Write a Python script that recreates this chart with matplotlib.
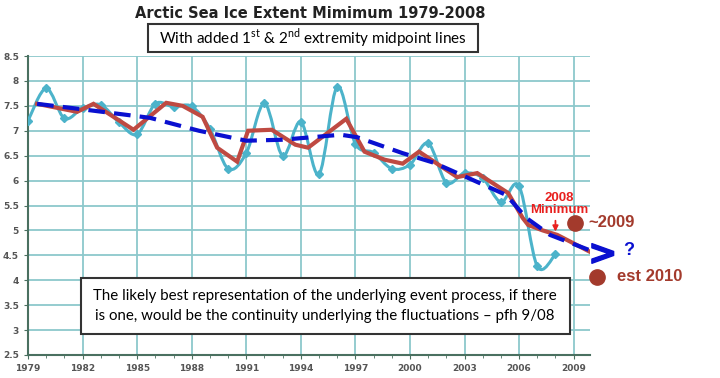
import numpy as np
import matplotlib
matplotlib.use("Agg")
import matplotlib.pyplot as plt
import matplotlib.patheffects as pe
from matplotlib.path import Path
from matplotlib.patches import PathPatch, Rectangle

# September minimum extent (million km2)
years = list(range(1979, 2009))
extent = [7.20, 7.85, 7.25, 7.45, 7.52, 7.17, 6.93, 7.54, 7.48, 7.49,
          7.04, 6.24, 6.55, 7.55, 6.50, 7.18, 6.13, 7.88, 6.74, 6.56,
          6.24, 6.32, 6.75, 5.96, 6.15, 6.05, 5.57, 5.89, 4.28, 4.52]

# 1st extremity midpoint line (red)
mid1_x = [1979.5, 1981.7, 1982.6, 1984.8, 1986.6, 1987.5, 1988.6, 1989.4, 1990.5,
          1991.1, 1992.4, 1993.7, 1994.4, 1996.5, 1997.5, 1998.6, 1999.6, 2000.5,
          2002.6, 2003.7, 2005.4, 2006.2, 2006.5, 2007.3, 2008.1, 2009.0, 2009.9]
mid1_y = [7.54, 7.38, 7.54, 7.02, 7.56, 7.50, 7.28, 6.66, 6.38,
          7.00, 7.02, 6.72, 6.66, 7.24, 6.58, 6.42, 6.34, 6.58,
          6.07, 6.15, 5.75, 5.25, 5.11, 5.00, 4.91, 4.74, 4.57]

# 2nd extremity midpoint line (blue dashed)
mid2_x = [1979.5, 1982.0, 1985.7, 1988.4, 1991.0, 1993.0, 1996.2, 1997.1, 1999.6,
          2001.3, 2003.1, 2005.3, 2006.4, 2007.7, 2009.9]
mid2_y = [7.54, 7.43, 7.26, 7.00, 6.80, 6.82, 6.92, 6.87, 6.55,
          6.36, 6.07, 5.71, 5.25, 4.91, 4.60]

est_x = [2009.05, 2010.3]
est_y = [5.15, 4.07]
est_labels = ["~2009", "est 2010"]

xticks = list(range(1979, 2010, 3))
yticks = [2.5, 3, 3.5, 4, 4.5, 5, 5.5, 6, 6.5, 7, 7.5, 8, 8.5]


def smooth_path(xs, ys):
    # excel-like smoothed line as cubic bezier segments
    pts = np.column_stack([xs, ys])
    n = len(pts)
    verts = [tuple(pts[0])]
    codes = [Path.MOVETO]
    for i in range(n - 1):
        p0 = pts[i - 1] if i > 0 else pts[i]
        p1, p2 = pts[i], pts[i + 1]
        p3 = pts[i + 2] if i + 2 < n else pts[i + 1]
        verts += [tuple(p1 + (p2 - p0) / 6), tuple(p2 - (p3 - p1) / 6), tuple(p2)]
        codes += [Path.CURVE4] * 3
    return Path(verts, codes)


def px_box(fig, x0, y0, x1, y1):
    # rectangle given in pixels from the top-left corner
    W, H = 720.0, 378.0
    fig.patches.append(Rectangle((x0 / W, 1 - y1 / H), (x1 - x0) / W, (y1 - y0) / H,
                                 transform=fig.transFigure, fc='white', ec='#333333',
                                 lw=1.5, zorder=9))


plt.rcParams['mathtext.fontset'] = 'custom'
plt.rcParams['mathtext.rm'] = 'Lato'

fig = plt.figure(figsize=(7.2, 3.78), dpi=100)
ax = fig.add_axes([28 / 720, 1 - 355 / 378, (590 - 28) / 720, (355 - 56) / 378])

cyan = '#4cb3ca'
ax.add_patch(PathPatch(smooth_path(years, extent), fill=False, edgecolor=cyan, lw=2.2, zorder=3))
ax.plot(years, extent, 'D', color=cyan, ms=4.5, zorder=3)
ax.plot(mid1_x, mid1_y, color='#bf4a42', lw=3, solid_joinstyle='miter', zorder=4)
ax.plot(mid2_x, mid2_y, color='#0a10d0', lw=3, dashes=(4, 2.2), zorder=5)

ax.set_xlim(1979, 2009.9)
ax.set_ylim(2.5, 8.5)
ax.set_xticks(xticks)
ax.set_xticks(range(1979, 2010), minor=True)
ax.set_yticks(yticks)
ax.set_yticklabels(['%g' % v for v in yticks])
ax.grid(True, color='#8cc8cc', lw=1.3)
ax.set_axisbelow(True)
for s in ['top', 'right']:
    ax.spines[s].set_visible(False)
for s in ['left', 'bottom']:
    ax.spines[s].set_color('#4a7060')
    ax.spines[s].set_linewidth(1.5)
ax.tick_params(axis='both', which='major', length=3, color='#4a7060', labelsize=6.5,
               labelcolor='#555555')
ax.tick_params(axis='x', which='minor', length=2, color='#4a7060')
for lab in ax.get_xticklabels() + ax.get_yticklabels():
    lab.set_fontweight('bold')

# estimates
brown = '#a33a2c'
ax.plot(est_x, est_y, 'o', color=brown, ms=11, clip_on=False, zorder=6)
ax.text(est_x[0] + 0.75, est_y[0], est_labels[0], color=brown, fontsize=12,
        fontweight='bold', va='center', ha='left', family='Liberation Sans')
ax.text(est_x[1] + 1.1, est_y[1], est_labels[1], color=brown, fontsize=12,
        fontweight='bold', va='center', ha='left', family='Liberation Sans')

# 2008 minimum marker
ax.text(2008.2, 5.53, "2008\nMinimum", color='#e8201e', fontsize=9.5, fontweight='bold',
        ha='center', va='center', linespacing=1.0, family='Liberation Sans')
ax.annotate("", xy=(2008.0, 4.92), xytext=(2008.0, 5.25),
            arrowprops=dict(arrowstyle='-|>', color='#e8201e', lw=1.3, mutation_scale=8))

# blue chevron and question mark
ax.text(2010.6, 4.52, ">", color='#0a10d0', fontsize=25, fontweight='bold',
        ha='center', va='center', family='DejaVu Sans', clip_on=False,
        path_effects=[pe.withStroke(linewidth=1.0, foreground='#0a10d0')])
ax.text(2012.0, 4.6, "?", color='#0a10d0', fontsize=13, fontweight='bold',
        ha='center', va='center', family='Liberation Sans')

fig.text(310 / 720, 1 - 13 / 378, "Arctic Sea Ice Extent Mimimum 1979-2008",
         ha='center', va='center', fontsize=10.5, fontweight='bold', color='#222222')

px_box(fig, 148, 24, 478, 52)
fig.text(313 / 720, 1 - 38 / 378,
         r"With added 1$^{\mathrm{st}}$ & 2$^{\mathrm{nd}}$ extremity midpoint lines",
         ha='center', va='center', fontsize=11, family='Lato', zorder=10)

px_box(fig, 81, 278, 570, 334)
fig.text(325 / 720, 1 - 306 / 378,
         "The likely best representation of the underlying event process, if there\n"
         "is one, would be the continuity underlying the fluctuations \u2013 pfh 9/08",
         ha='center', va='center', fontsize=10.8, family='Lato', linespacing=1.5,
         zorder=10)

fig.savefig('out.png', dpi=100)
